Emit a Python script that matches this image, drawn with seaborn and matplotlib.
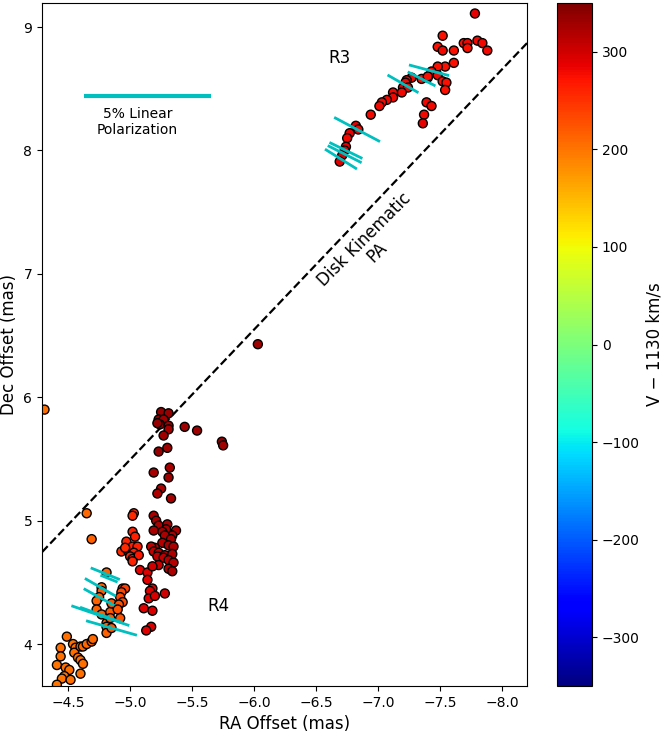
#!/usr/bin/env python3

import numpy as np
import pandas
import seaborn as sns
import matplotlib
import matplotlib.pyplot as plt

# R3 complex (RA offset, Dec offset in mas, velocity V-1130 in km/s)
r3_ra = [-7.78, -7.52, -7.48, -7.52, -7.61, -7.69, -7.72, -7.72, -7.80, -7.84,
         -7.88, -7.61, -7.54, -7.48, -7.43, -7.40, -7.35, -7.48, -7.52, -7.55,
         -7.54, -7.39, -7.43, -7.37, -7.36, -7.27, -7.23, -7.22, -7.20, -7.24,
         -7.19, -7.12, -7.12, -7.07, -7.03, -7.01, -6.94, -6.82, -6.84, -6.77,
         -6.75, -6.74, -6.73, -6.71, -6.69, -7.40]
r3_dec = [9.11, 8.93, 8.84, 8.81, 8.81, 8.87, 8.87, 8.83, 8.89, 8.87,
          8.81, 8.71, 8.68, 8.68, 8.64, 8.59, 8.58, 8.61, 8.56, 8.55,
          8.49, 8.39, 8.36, 8.29, 8.22, 8.59, 8.57, 8.55, 8.51, 8.51,
          8.47, 8.47, 8.43, 8.41, 8.39, 8.36, 8.29, 8.20, 8.17, 8.14,
          8.10, 8.03, 8.00, 7.96, 7.91, 8.60]
r3_vel = [285, 275, 275, 280, 275, 275, 280, 275, 280, 280,
          280, 275, 275, 275, 280, 275, 275, 280, 275, 275,
          275, 280, 280, 280, 285, 280, 280, 280, 285, 280,
          280, 280, 280, 280, 280, 280, 280, 285, 280, 285,
          280, 285, 285, 290, 290, 275]

# clump along the disk line
mid_ra = [-6.03, -5.25, -5.31, -5.23, -5.27, -5.24, -5.31, -5.31, -5.22, -5.27,
          -5.44, -5.54, -5.74, -5.75, -5.23, -5.30, -5.32, -5.19, -5.31, -5.25,
          -5.22, -5.33]
mid_dec = [6.43, 5.88, 5.87, 5.82, 5.82, 5.78, 5.77, 5.74, 5.79, 5.69,
           5.76, 5.73, 5.64, 5.61, 5.56, 5.59, 5.43, 5.39, 5.35, 5.26,
           5.22, 5.18]
mid_vel = [330, 335, 335, 335, 330, 335, 330, 325, 335, 330,
           330, 330, 335, 330, 335, 330, 325, 325, 330, 320,
           320, 325]

# R4, red column
r4a_ra = [-5.03, -5.02, -5.02, -5.04, -4.97, -4.93, -4.98, -5.02, -5.06, -5.03,
          -5.00, -5.02, -5.07, -5.02, -4.96, -5.08, -5.14, -5.14, -5.18, -5.16,
          -5.15, -5.20, -5.28, -5.11, -5.18, -5.17, -5.13]
r4a_dec = [5.06, 5.04, 4.91, 4.87, 4.83, 4.75, 4.76, 4.79, 4.79, 4.74,
           4.71, 4.69, 4.72, 4.67, 4.78, 4.60, 4.58, 4.52, 4.45, 4.43,
           4.37, 4.39, 4.41, 4.29, 4.27, 4.14, 4.11]
r4a_vel = [255, 255, 265, 265, 260, 255, 260, 265, 265, 260,
           260, 265, 270, 260, 255, 285, 290, 290, 295, 290,
           290, 295, 300, 290, 295, 295, 290]

# R4, dark red column
r4b_ra = [-5.19, -5.21, -5.23, -5.19, -5.30, -5.29, -5.37, -5.26, -5.34, -5.28,
          -5.33, -5.26, -5.31, -5.35, -5.20, -5.17, -5.19, -5.23, -5.28, -5.34,
          -5.22, -5.27, -5.31, -5.35, -5.31, -5.34, -5.23, -5.18]
r4b_dec = [5.04, 5.00, 4.96, 4.92, 4.97, 4.93, 4.92, 4.91, 4.88, 4.88,
           4.85, 4.82, 4.80, 4.79, 4.78, 4.79, 4.75, 4.74, 4.72, 4.73,
           4.71, 4.70, 4.68, 4.66, 4.61, 4.59, 4.64, 4.63]
r4b_vel = [325, 325, 320, 325, 325, 320, 320, 325, 320, 320,
           320, 315, 320, 320, 310, 310, 310, 315, 315, 320,
           310, 310, 315, 315, 320, 320, 305, 300]

# R4, orange part
r4c_ra = [-4.31, -4.65, -4.69, -4.81, -4.77, -4.77, -4.75, -4.73, -4.73, -4.77,
          -4.81, -4.84, -4.85, -4.94, -4.96, -4.93, -4.92, -4.94, -4.91, -4.90,
          -4.92, -4.84, -4.81, -4.81, -4.85,
          -4.49, -4.44, -4.44, -4.41, -4.48, -4.51, -4.47, -4.45, -4.52, -4.41,
          -4.54, -4.56, -4.55, -4.60, -4.62, -4.65, -4.69, -4.70, -4.58, -4.60,
          -4.62, -4.60]
r4c_dec = [5.90, 5.06, 4.85, 4.58, 4.46, 4.43, 4.38, 4.35, 4.28, 4.24,
           4.17, 4.26, 4.33, 4.45, 4.45, 4.42, 4.38, 4.34, 4.32, 4.28,
           4.21, 4.21, 4.14, 4.09, 4.13,
           4.06, 3.97, 3.90, 3.83, 3.81, 3.79, 3.74, 3.72, 3.71, 3.67,
           4.00, 3.97, 3.93, 3.98, 3.98, 4.00, 4.02, 4.04, 3.89, 3.87,
           3.84, 3.76]
r4c_vel = [205, 210, 215, 215, 215, 220, 215, 215, 215, 215,
           220, 220, 225, 240, 240, 235, 230, 230, 225, 225,
           225, 220, 215, 215, 220,
           205, 205, 205, 200, 205, 205, 200, 200, 205, 200,
           205, 205, 205, 210, 210, 210, 210, 210, 205, 205,
           205, 205]

# polarization vectors: position, fraction (%), EVPA (deg)
vec_ra = [-6.83, -6.74, -6.73, -6.70, -7.20, -7.41, -7.35,
          -4.80, -4.83, -4.76, -4.75, -4.76, -4.77, -4.85]
vec_dec = [8.17, 8.00, 7.97, 7.93, 8.54, 8.65, 8.58,
           4.57, 4.53, 4.46, 4.38, 4.23, 4.235, 4.13]
vec_pct = [2.05, 1.45, 1.50, 1.49, 1.41, 1.64, 1.23,
           1.24, 0.73, 1.41, 1.39, 2.42, 1.81, 2.09]
vec_evpa = [62, 64, 63, 58, 60, 75, 63,
            68, 68, 60, 61, 71, 70, 74]

# 5% scale bar
bar_pct = 5.0
bar_ra = -5.14
bar_dec = 8.44
mas_per_pct = 1.02 / 5.0

# disk kinematic position angle line
disk_ra = [-4.29, -8.20]
disk_dec = [4.745, 8.87]

vmin, vmax = -350, 350


def main():
    df = pandas.DataFrame({
        "ra": r3_ra + mid_ra + r4a_ra + r4b_ra + r4c_ra,
        "dec": r3_dec + mid_dec + r4a_dec + r4b_dec + r4c_dec,
        "vel": r3_vel + mid_vel + r4a_vel + r4b_vel + r4c_vel,
    })
    jet = matplotlib.colormaps["jet"]

    fig = plt.figure(figsize=(6.64, 7.34), dpi=100)
    ax = fig.add_axes([0.0633, 0.0654, 0.7304, 0.9305])
    cax = fig.add_axes([0.8389, 0.0654, 0.0527, 0.9305])

    ax.plot(disk_ra, disk_dec, "k--", lw=1.6, zorder=1)

    sns.scatterplot(data=df, x="ra", y="dec", hue="vel", palette=jet,
                    hue_norm=(vmin, vmax), s=42, edgecolor="black",
                    linewidth=1.0, legend=False, ax=ax, zorder=2)

    # polarization vectors
    for ra, dec, pct, pa in zip(vec_ra, vec_dec, vec_pct, vec_evpa):
        half = pct * mas_per_pct / 2.0
        dx = half * np.sin(np.radians(pa))
        dy = half * np.cos(np.radians(pa))
        ax.plot([ra - dx, ra + dx], [dec - dy, dec + dy], color="c",
                lw=2.0, zorder=3, solid_capstyle="butt")

    half = bar_pct * mas_per_pct / 2.0
    ax.plot([bar_ra + half, bar_ra - half], [bar_dec, bar_dec], color="c",
            lw=3.0, solid_capstyle="butt")
    ax.text(bar_ra + 0.08, 8.23, "5% Linear\nPolarization", ha="center",
            va="center", fontsize=10)

    ax.text(-6.69, 8.75, "R3", ha="center", va="center", fontsize=12)
    ax.text(-5.71, 4.31, "R4", ha="center", va="center", fontsize=12)
    ax.text(-6.94, 7.225, "Disk Kinematic\nPA", ha="center", va="center",
            rotation=45, fontsize=12, multialignment="center",
            linespacing=1.0)

    ax.set_xlim(-4.29, -8.20)
    ax.set_ylim(3.66, 9.195)
    ax.set_xticks([-4.5, -5.0, -5.5, -6.0, -6.5, -7.0, -7.5, -8.0])
    ax.set_yticks([4, 5, 6, 7, 8, 9])
    ax.set_xlabel("RA Offset (mas)", fontsize=12)
    ax.set_ylabel("Dec Offset (mas)", fontsize=12)
    ax.tick_params(labelsize=10)

    sm = plt.cm.ScalarMappable(cmap=jet,
                               norm=matplotlib.colors.Normalize(vmin, vmax))
    cbar = fig.colorbar(sm, cax=cax)
    cbar.set_ticks([-300, -200, -100, 0, 100, 200, 300])
    cbar.ax.tick_params(labelsize=10)
    cbar.set_label("V \u2212 1130 km/s", fontsize=12)

    plt.savefig("out.png", dpi=100)
    plt.close()


if __name__ == "__main__":
    main()
